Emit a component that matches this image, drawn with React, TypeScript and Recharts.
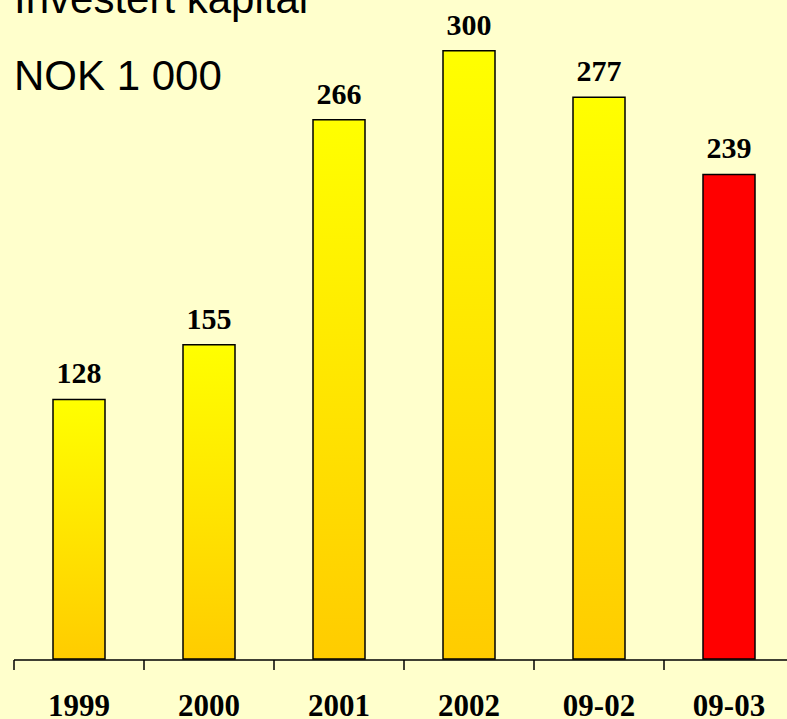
import React from 'react';
import { BarChart, Bar, XAxis, YAxis, Cell, LabelList } from 'recharts';

const categories = ['1999', '2000', '2001', '2002', '09-02', '09-03'];
const values = [128, 155, 266, 300, 277, 239];
const highlight = [false, false, false, false, false, true];
const boundaryTicks = [0, 1, 2, 3, 4, 5, 6];

const data = categories.map((c, i) => ({ name: c, value: values[i], idx: i + 0.5, hi: highlight[i] }));

const serif = '"Liberation Serif", "Times New Roman", serif';
const sans = '"Liberation Sans", Arial, sans-serif';

export default function App() {
  return (
    <div style={{ position: 'absolute', left: 0, top: 0, width: 787, height: 719, background: '#FFFFCC', overflow: 'hidden' }}>
      <div style={{ position: 'absolute', left: 14, top: -22, fontFamily: sans, fontSize: 42, lineHeight: '42px', color: '#000', whiteSpace: 'nowrap' }}>Investert kapital</div>
      <div style={{ position: 'absolute', left: 14, top: 55, fontFamily: sans, fontSize: 42, lineHeight: '42px', color: '#000', whiteSpace: 'nowrap' }}>NOK 1 000</div>
      <div style={{ position: 'absolute', left: 0, top: 0 }}>
        <BarChart width={800} height={719} data={data} margin={{ top: 0, right: 6, left: 14, bottom: 58 }}>
          <defs>
            <linearGradient id="barGrad" x1="0" y1="0" x2="0" y2="1">
              <stop offset="0%" stopColor="#FFFF00" />
              <stop offset="100%" stopColor="#FFCC00" />
            </linearGradient>
          </defs>
          <XAxis
            xAxisId="ticks"
            type="number"
            dataKey="idx"
            domain={[0, 6]}
            ticks={boundaryTicks}
            interval={0}
            height={1}
            tickSize={10}
            tickFormatter={() => ''}
            stroke="#000"
            axisLine={{ stroke: '#000', strokeWidth: 1.5 }}
            tickLine={{ stroke: '#000', strokeWidth: 1.5 }}
          />
          <XAxis
            xAxisId="cat"
            dataKey="name"
            height={1}
            axisLine={false}
            tickLine={false}
            tickSize={0}
            tickMargin={35}
            interval={0}
            tick={{ fill: '#000', fontFamily: serif, fontWeight: 'bold', fontSize: 31 }}
          />
          <YAxis hide domain={[0, 325]} />
          <Bar xAxisId="cat" dataKey="value" barSize={52} fill="url(#barGrad)" stroke="#000" strokeWidth={1.5} isAnimationActive={false}>
            {data.map((d, i) => (
              <Cell key={i} fill={d.hi ? '#FF0000' : 'url(#barGrad)'} />
            ))}
            <LabelList dataKey="value" position="top" offset={16} fill="#000" fontFamily={serif} fontWeight="bold" fontSize={30} />
          </Bar>
        </BarChart>
      </div>
    </div>
  );
}
